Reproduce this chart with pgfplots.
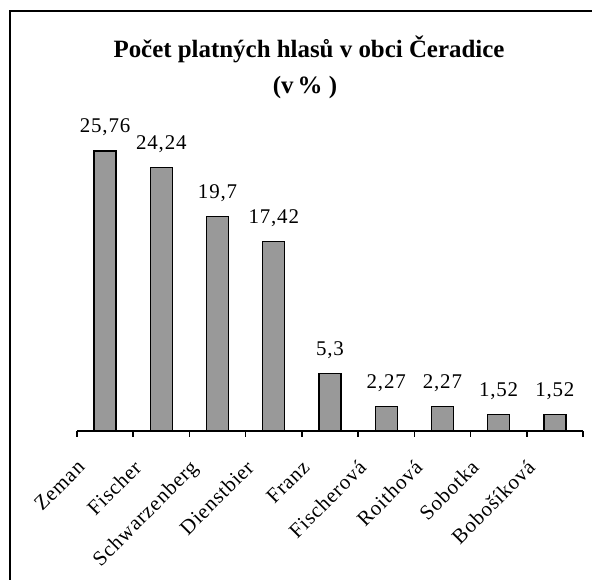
\documentclass[border=0pt]{standalone}
\usepackage{pgfplots}
\pgfplotsset{compat=1.18}
\usepackage{fontspec}
\setmainfont{Liberation Serif}
\newfontfamily\lblfont[LetterSpace=4]{Liberation Serif}
\definecolor{bargray}{RGB}{153,153,153}
\begin{document}
\begin{tikzpicture}[x=1bp,y=1bp]
\useasboundingbox (0,0) rectangle (592,580);
\draw[line width=1.5bp] (10,0) -- (10,569) -- (592,569);
\node[anchor=base, inner sep=0pt, font=\fontsize{25}{28}\selectfont\bfseries] at (309,522.5) {Počet platných hlasů v obci Čeradice};
\node[anchor=base, inner sep=0pt, font=\fontsize{25}{28}\selectfont\bfseries] at (305,486) {(v\,\% )};
\begin{axis}[
  at={(77bp,149bp)}, anchor=south west,
  scale only axis, width=506bp, height=304.4bp,
  xmin=-0.5, xmax=8.5, ymin=0, ymax=28,
  axis y line=none, axis x line*=bottom,
  x axis line style={line width=1.5bp, black},
  ybar, bar width=22bp,
  xtick={0,...,8},
  xticklabels={Zeman,Fischer,Schwarzenberg,Dienstbier,Franz,Fischerová,Roithová,Sobotka,Bobošíková},
  major tick length=0pt,
  minor xtick={-0.5,0.5,...,8.5},
  minor tick length=6bp, tick align=outside,
  every tick/.style={black, line width=1.5bp},
  xticklabel style={rotate=45, anchor=north east, inner sep=0pt, font=\lblfont\fontsize{21}{24}\selectfont, xshift=-40bp, yshift=1bp},
  nodes near coords, point meta=explicit symbolic,
  nodes near coords style={anchor=base, inner sep=0pt, yshift=18bp, font=\lblfont\fontsize{21}{24}\selectfont},
  clip=false,
]
\addplot[fill=bargray, draw=black, line width=1.3bp] table[meta=label] {
x y label
0 25.76 25,76
1 24.24 24,24
2 19.7 19,7
3 17.42 17,42
4 5.3 5,3
5 2.27 2,27
6 2.27 2,27
7 1.52 1,52
8 1.52 1,52
};
\end{axis}
\end{tikzpicture}
\end{document}
